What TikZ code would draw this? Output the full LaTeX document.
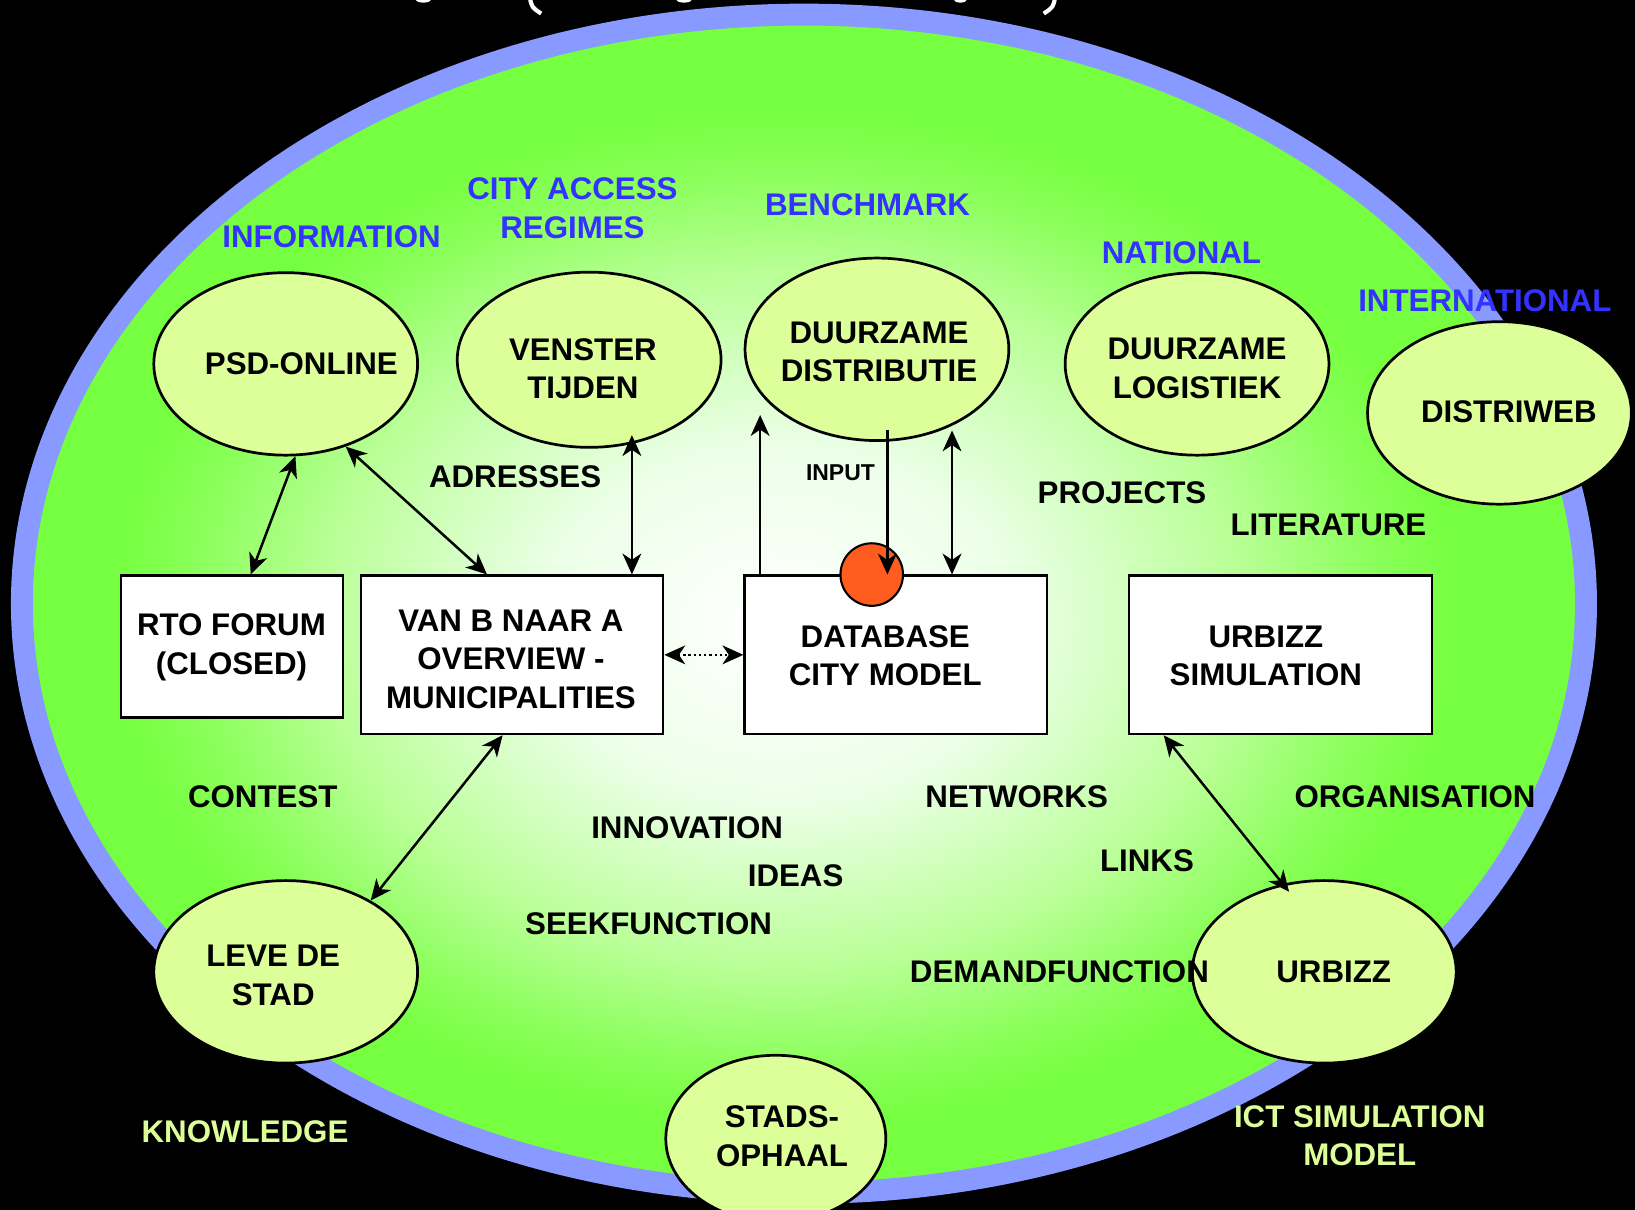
\documentclass[tikz,border=0pt]{standalone}
\usepackage{fontspec}
\setmainfont{Liberation Sans}
\usetikzlibrary{shapes.geometric,arrows.meta}
\definecolor{ringblue}{RGB}{136,153,255}
\definecolor{bgreen}{RGB}{118,255,64}
\definecolor{g1}{RGB}{236,255,232}
\definecolor{g2}{RGB}{185,255,150}
\definecolor{g3}{RGB}{138,255,90}
\definecolor{nodefill}{RGB}{221,255,153}
\definecolor{lblue}{RGB}{51,51,255}
\definecolor{dotred}{RGB}{255,92,31}
\pgfdeclareradialshading{glow}{\pgfpoint{-1bp}{-1bp}}{color(0bp)=(white); color(7.5bp)=(g1); color(14.75bp)=(g2); color(19bp)=(g3); color(21.5bp)=(bgreen); color(50bp)=(bgreen)}
\tikzset{
  oval/.style={ellipse, draw=black, line width=2.6pt, fill=nodefill, minimum width=253pt, minimum height=175pt, inner sep=0pt},
  boxnode/.style={rectangle, draw=black, line width=2.2pt, fill=white, inner sep=0pt, minimum width=290pt, minimum height=152pt},
  txt/.style={font=\bfseries\fontsize{30}{37}\selectfont, align=center, inner sep=0pt, text=black},
  smalltxt/.style={font=\bfseries\fontsize{22}{26}\selectfont, inner sep=0pt, text=black},
  bluetxt/.style={txt, text=lblue},
  yeltxt/.style={txt, text=nodefill},
  dbl/.style={line width=2.4pt, <->},
  sgl/.style={line width=2.4pt, ->},
  glyph/.style={white, line width=4pt}
}
\begin{document}
\begin{tikzpicture}[x=1pt,y=-1pt,>={Stealth[length=20pt 0,width=18pt 0,inset=6pt 0]}]
\useasboundingbox (0,0) rectangle (1568,1160);
\fill[black] (0,0) rectangle (1568,1160);
% cut-off title remnants
\fill[white] (406,0) ellipse [x radius=7, y radius=2.5];
\fill[white] (656,0) ellipse [x radius=7, y radius=2.5];
\fill[white] (921,0) ellipse [x radius=6, y radius=2.5];
\draw[glyph] (508,-3) .. controls (510,7) .. (519,13);
\draw[glyph] (1012,-3) .. controls (1010,7) .. (1001,13);
% big ellipse
\fill[shading=glow] (771,579) ellipse [x radius=750, y radius=565];
\draw[ringblue, line width=21pt] (771,579) ellipse [x radius=750, y radius=565];
% ellipse nodes
\node[oval] (psd) at (274,349) {};
\node[oval, minimum height=168pt] (venster) at (565,345) {};
\node[oval] (dd) at (841,335) {};
\node[oval] (dl) at (1148,349) {};
\node[oval] (distriweb) at (1438,396) {};
\node[oval] (leve) at (274,932) {};
\node[oval] (urbizz) at (1270,932) {};
\node[oval, minimum width=211pt, minimum height=160pt] (stads) at (744,1092) {};
% boxes
\node[boxnode, minimum width=213pt, minimum height=136pt] (rto) at (222.5,620) {};
\node[boxnode] (vanb) at (491,628) {};
\node[boxnode] (db) at (859,628) {};
\node[boxnode] (urbsim) at (1228,628) {};
\node[circle, draw=black, line width=2pt, fill=dotred, minimum size=60pt, inner sep=0pt] (reddot) at (836,551) {};
% texts in shapes
\node[txt] (tpsd) at (289,349) {PSD-ONLINE};
\node[txt] (tvenster) at (559,353.5) {VENSTER\\TIJDEN};
\node[txt] (tdd) at (843,337.5) {DUURZAME\\DISTRIBUTIE};
\node[txt] (tdl) at (1148,353.5) {DUURZAME\\LOGISTIEK};
\node[txt] (tdistriweb) at (1447,395) {DISTRIWEB};
\node[txt] (tleve) at (262,935.5) {LEVE DE\\STAD};
\node[txt] (turbizz) at (1279,932) {URBIZZ};
\node[txt] (tstads) at (750,1089.5) {STADS-\\OPHAAL};
\node[txt] (trto) at (222,621) {RTO FORUM\\(CLOSED)};
\node[txt] (tvanb) at (490,632) {VAN B NAAR A\\OVERVIEW -\\MUNICIPALITIES};
\node[txt] (tdb) at (849,629) {DATABASE\\CITY MODEL};
\node[txt] (turbsim) at (1214,629) {URBIZZ\\SIMULATION};
% connectors
\coordinate (upend) at (729,398);
\draw[dbl] (psd.-84) -- ([xshift=18pt]rto.north);
\draw[dbl] (psd.-54) -- ([xshift=-24pt]vanb.north);
\draw[dbl] ([xshift=41pt,yshift=13pt]venster.south) -- ([xshift=115pt]vanb.north);
\draw[dbl, dash pattern=on 2.2pt off 2.8pt] (vanb.east) -- (db.west);
\draw[sgl] ([xshift=-130pt]db.north) -- (upend);
\draw[sgl] ([xshift=10pt,yshift=11pt]dd.south) -- ([xshift=15pt]reddot.center);
\draw[dbl] ([xshift=72pt,yshift=11pt]dd.south) -- ([xshift=54pt]db.north);
\draw[dbl] ([xshift=-9pt]vanb.south) -- (leve.40);
\draw[dbl] ([xshift=-112pt]urbsim.south) -- ([xshift=4pt,yshift=-8pt]urbizz.114);
% free labels
\node[bluetxt] (linfo) at (318,227) {INFORMATION};
\node[bluetxt] (lcity) at (549,199.5) {CITY ACCESS\\REGIMES};
\node[bluetxt] (lbench) at (832,196) {BENCHMARK};
\node[bluetxt] (lnat) at (1133,242) {NATIONAL};
\node[bluetxt] (lintl) at (1424,288) {INTERNATIONAL};
\node[txt] (ladr) at (494,457) {ADRESSES};
\node[smalltxt] (linput) at (806,453) {INPUT};
\node[txt] (lproj) at (1076,473) {PROJECTS};
\node[txt] (llit) at (1274,503) {LITERATURE};
\node[txt] (lcontest) at (252,764) {CONTEST};
\node[txt] (linnov) at (659,794) {INNOVATION};
\node[txt] (lideas) at (763,840) {IDEAS};
\node[txt] (lseek) at (622,886) {SEEKFUNCTION};
\node[txt] (lnet) at (975,764) {NETWORKS};
\node[txt] (llinks) at (1100,825) {LINKS};
\node[txt] (lorg) at (1357,764) {ORGANISATION};
\node[txt] (ldemand) at (1016,932) {DEMANDFUNCTION};
\node[yeltxt] (lknow) at (235,1085) {KNOWLEDGE};
\node[yeltxt] (lict) at (1304,1089) {ICT SIMULATION\\MODEL};
\end{tikzpicture}
\end{document}
